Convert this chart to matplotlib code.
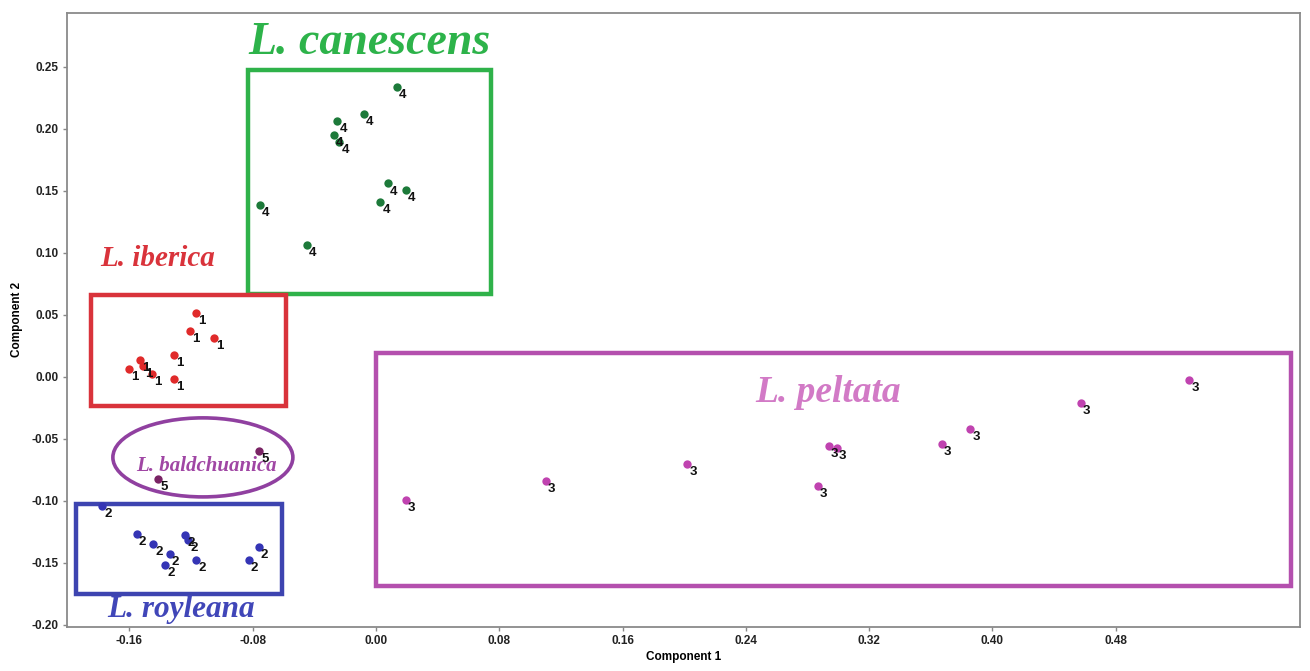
import matplotlib
matplotlib.use("Agg")
import matplotlib.pyplot as plt
from matplotlib.patches import Rectangle, Ellipse

# ---- data (Component 1, Component 2) ----
iberica_x = [-0.117, -0.1207, -0.105, -0.131, -0.153, -0.151, -0.160, -0.1456, -0.131]
iberica_y = [0.0516, 0.037, 0.031, 0.018, 0.0134, 0.0089, 0.0062, 0.0027, -0.0019]
iberica_lab = "1"

royleana_x = [-0.1776, -0.1553, -0.1445, -0.1337, -0.1369, -0.1237, -0.1218, -0.1166, -0.0761, -0.0826]
royleana_y = [-0.1043, -0.1264, -0.135, -0.1425, -0.1516, -0.1274, -0.1317, -0.1478, -0.1371, -0.1478]
royleana_lab = "2"

peltata_x = [0.0193, 0.1103, 0.202, 0.2938, 0.299, 0.2866, 0.3671, 0.3855, 0.4575, 0.5278]
peltata_y = [-0.0995, -0.0839, -0.0699, -0.0559, -0.0575, -0.0882, -0.0538, -0.0422, -0.0212, -0.0027]
peltata_lab = "3"

canescens_x = [0.0134, -0.0251, -0.0078, -0.0273, -0.0238, 0.0076, 0.0193, 0.0028, -0.0753, -0.045]
canescens_y = [0.2339, 0.2065, 0.2118, 0.1952, 0.189, 0.1559, 0.151, 0.1409, 0.1387, 0.1062]
canescens_lab = "4"

baldch_x = [-0.0757, -0.1412]
baldch_y = [-0.0597, -0.0825]
baldch_lab = "5"

xticks = [-0.16, -0.08, 0.00, 0.08, 0.16, 0.24, 0.32, 0.40, 0.48]
yticks = [-0.20, -0.15, -0.10, -0.05, 0.00, 0.05, 0.10, 0.15, 0.20, 0.25]

# group frames (x0, y0, x1, y1) in data units
box_canescens = (-0.0831, 0.0669, 0.0746, 0.2476)
box_iberica = (-0.185, -0.0234, -0.0584, 0.0661)
box_royleana = (-0.1947, -0.175, -0.061, -0.1024)
box_peltata = (0.0, -0.1685, 0.5938, 0.0194)
ell_baldch = (-0.1123, -0.0649, 0.1168, 0.0637)  # cx, cy, w, h

fig = plt.figure(figsize=(13.1, 6.71), dpi=100)
ax = fig.add_axes([0.0511, 0.0656, 0.9413, 0.9154])
ax.set_xlim(-0.2005, 0.5996)
ax.set_ylim(-0.2016, 0.2935)

groups = [
    (iberica_x, iberica_y, iberica_lab, "#e02a2a"),
    (royleana_x, royleana_y, royleana_lab, "#3535b5"),
    (peltata_x, peltata_y, peltata_lab, "#c043b0"),
    (canescens_x, canescens_y, canescens_lab, "#1d7a3a"),
    (baldch_x, baldch_y, baldch_lab, "#7a2465"),
]
for xs, ys, lab, col in groups:
    ax.scatter(xs, ys, s=36, color=col, zorder=3, linewidths=0)
    for x, y in zip(xs, ys):
        ax.annotate(lab, (x, y), xytext=(1.5, -1.5), textcoords="offset points",
                    ha="left", va="top", fontsize=9.5, fontweight="bold",
                    family="Liberation Sans", color="#111111", zorder=4)

def frame(b, col, lw=3.2):
    x0, y0, x1, y1 = b
    ax.add_patch(Rectangle((x0, y0), x1 - x0, y1 - y0, fill=False,
                           edgecolor=col, linewidth=lw, zorder=2))

frame(box_canescens, "#2fb24a")
frame(box_iberica, "#d9333b")
frame(box_royleana, "#3d44b0")
frame(box_peltata, "#b450ae")
cx, cy, w, h = ell_baldch
ax.add_patch(Ellipse((cx, cy), w, h, fill=False, edgecolor="#9040a0",
                     linewidth=2.6, zorder=2))

serif = dict(family="Liberation Serif", fontweight="bold", fontstyle="italic")
ax.text(-0.0045, 0.2690, "L. canescens", color="#2db34a", fontsize=33,
        ha="center", va="center", **serif)
ax.text(-0.1415, 0.0955, "L. iberica", color="#d9333b", fontsize=21,
        ha="center", va="center", **serif)
ax.text(0.2935, -0.0125, "L. peltata", color="#d27ac6", fontsize=27,
        ha="center", va="center", **serif)
ax.text(-0.1100, -0.0720, "L. baldchuanica", color="#a046a4", fontsize=15,
        ha="center", va="center", **serif)
ax.text(-0.1265, -0.1875, "L. royleana", color="#4046b8", fontsize=22.5,
        ha="center", va="center", **serif)

ax.set_xticks(xticks)
ax.set_xticklabels([f"{t:.2f}" for t in xticks])
ax.set_yticks(yticks)
ax.set_yticklabels([f"{t:.2f}" for t in yticks])
for lbl in ax.get_xticklabels() + ax.get_yticklabels():
    lbl.set_fontweight("bold")
    lbl.set_family("Liberation Sans")
    lbl.set_fontsize(8.5)
    lbl.set_color("#222222")
ax.tick_params(direction="out", length=3, width=1, color="#888888", pad=3)
for sp in ax.spines.values():
    sp.set_color("#8a8a8a")
    sp.set_linewidth(1.3)

ax.set_xlabel("Component 1", fontsize=8.5, fontweight="bold",
              family="Liberation Sans", labelpad=3)
ax.set_ylabel("Component 2", fontsize=8.5, fontweight="bold",
              family="Liberation Sans", labelpad=6)

fig.savefig("out.png", dpi=100)
